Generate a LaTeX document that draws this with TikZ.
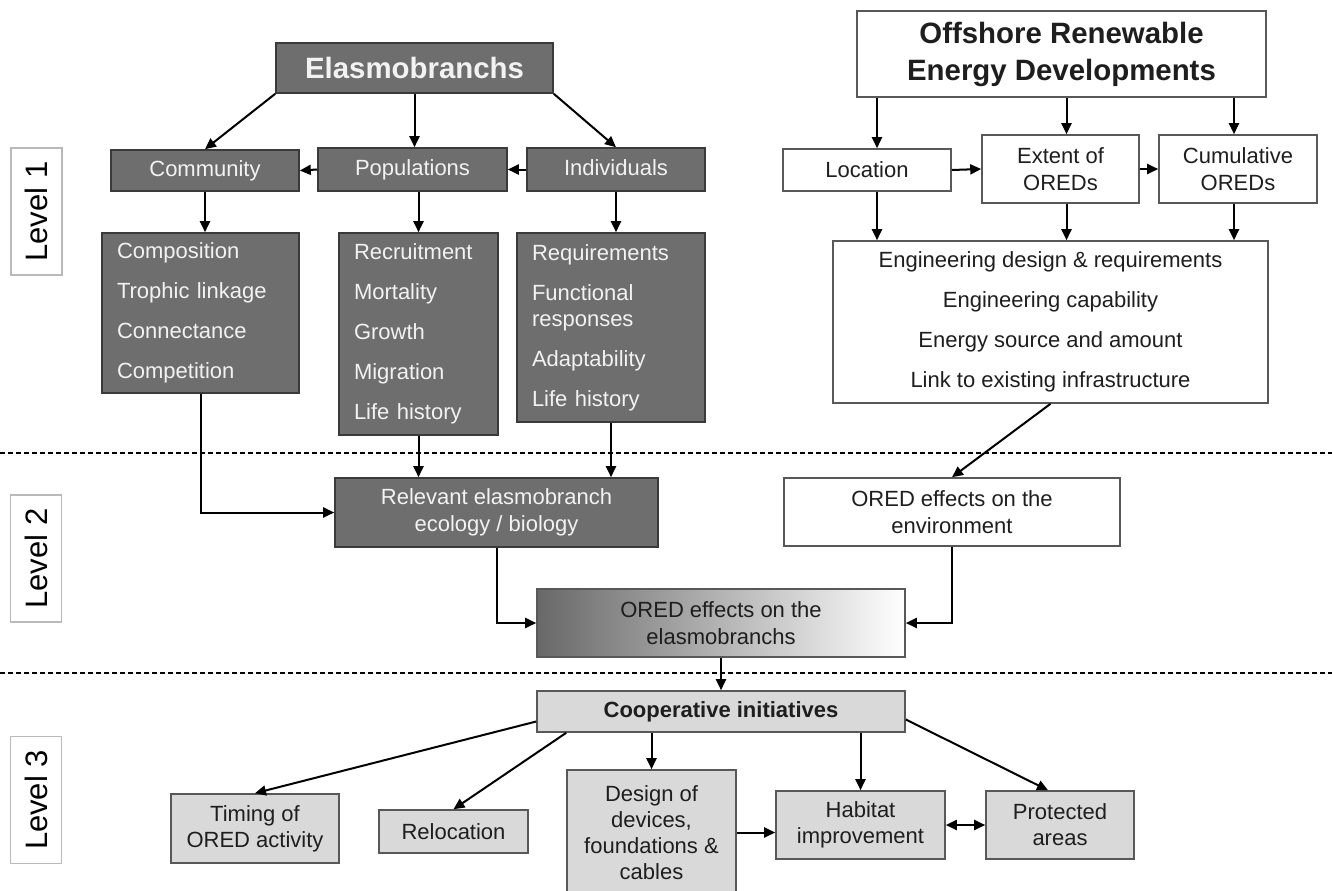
\documentclass[tikz,border=0pt]{standalone}
\usepackage{fontspec}
\setmainfont{Liberation Sans}
\usetikzlibrary{arrows.meta}

\definecolor{darkfill}{HTML}{6E6E6E}
\definecolor{darkline}{HTML}{3A3A3A}
\definecolor{lightfill}{HTML}{D9D9D9}
\definecolor{paletext}{HTML}{F2F2F2}
\definecolor{inktext}{HTML}{1E1E1E}

\tikzset{
  darkbox/.style={draw=darkline, line width=0.8pt, fill=darkfill, text=paletext, inner sep=0pt, align=center, font=\fontsize{11}{13.5}\selectfont},
  whitebox/.style={draw=darkline!85, line width=0.8pt, fill=white, text=inktext, inner sep=0pt, align=center, font=\fontsize{11}{13.5}\selectfont},
  greybox/.style={draw=darkline!85, line width=0.8pt, fill=lightfill, text=inktext, inner sep=0pt, align=center, font=\fontsize{11}{13}\selectfont},
  gradbox/.style={draw=darkline!85, line width=0.8pt, left color=darkfill!95!black, right color=white, text=inktext, inner sep=0pt, align=center, font=\fontsize{11}{13.5}\selectfont},
  listbox/.style={darkbox, align=left, inner xsep=7.5pt, font=\fontsize{11}{20}\selectfont},
  rowbox/.style={darkbox, text height=8pt, text depth=2.4pt},
  levelbox/.style={draw=gray!55, line width=0.75pt, fill=white, rotate=90, inner sep=0pt, minimum width=63.5pt, minimum height=25.5pt, font=\fontsize{15.5}{18}\selectfont},
  arr/.style={-{Triangle[length=5.5pt,width=5pt]}, line width=1pt},
  dblarr/.style={{Triangle[length=5.5pt,width=5pt]}-{Triangle[length=5.5pt,width=5pt]}, line width=1pt},
  levelline/.style={line width=0.8pt, dash pattern=on 2.5pt off 1.5pt}
}

\begin{document}
\begin{tikzpicture}[x=0.5pt, y=-0.5pt]
    \useasboundingbox (0,0) rectangle (1332,890);

    % Levels
    \node[levelbox] (lev1) at (36.5,211.5) {Level 1};
    \node[levelbox] (lev2) at (36,558.5) {Level 2};
    \node[levelbox] (lev3) at (36,800) {Level 3};
    \draw[levelline] (0,453) -- (1332,453);
    \draw[levelline] (0,673) -- (1332,673);

    % Elasmobranch side
    \node[darkbox, minimum width=138.5pt, minimum height=25pt, font=\bfseries\fontsize{14.7}{17}\selectfont] (elasmo) at (414.5,68) {Elasmobranchs};
    \node[rowbox, minimum width=94pt, minimum height=20.5pt] (community) at (205,170.5) {Community};
    \node[rowbox, minimum width=94.5pt, minimum height=21.5pt] (populations) at (412.5,169.5) {Populations};
    \node[rowbox, minimum width=89pt, minimum height=21.5pt] (individuals) at (616,169.5) {Individuals};
    \node[listbox, text width=83.5pt, minimum height=80pt] (compbox) at (200.5,313)
        {Composition\\Trophic linkage\\Connectance\\Competition};
    \node[listbox, text width=64.5pt, minimum height=101pt] (recbox) at (418.5,334)
        {Recruitment\\Mortality\\Growth\\Migration\\Life history};
    \node[listbox, text width=79pt, minimum height=94.5pt] (reqbox) at (611,327.5)
        {Requirements\\Functional\\[-7pt]responses\\Adaptability\\Life history};

    \draw[arr] (elasmo.south west) -- (community.north);
    \draw[arr] (elasmo.south) -- (elasmo.south |- populations.north);
    \draw[arr] (elasmo.south east) -- (individuals.north);
    \draw[arr] (populations.west) -- (community.east);
    \draw[arr] (individuals.west) -- (populations.east);
    \draw[arr] (community.south) -- (community.south |- compbox.north);
    \draw[arr] (recbox.north |- populations.south) -- (recbox.north);
    \draw[arr] (individuals.south) -- (individuals.south |- reqbox.north);

    % ORED side
    \node[whitebox, minimum width=204.5pt, minimum height=43pt, font=\bfseries\fontsize{14.7}{18.5}\selectfont] (offshore) at (1061.5,54)
        {Offshore Renewable\\Energy Developments};
    \node[whitebox, minimum width=84pt, minimum height=21pt] (location) at (867,170) {Location};
    \node[whitebox, minimum width=78.5pt, minimum height=34pt] (extent) at (1060.5,169) {Extent of\\OREDs};
    \node[whitebox, minimum width=79pt, minimum height=34pt] (cumul) at (1238,169) {Cumulative\\OREDs};
    \node[whitebox, minimum width=217.5pt, minimum height=81pt, font=\fontsize{11}{20}\selectfont] (engin) at (1050.5,322)
        {Engineering design \& requirements\\Engineering capability\\Energy source and amount\\Link to existing infrastructure};

    \draw[arr] ([xshift=5pt]location.north |- offshore.south) -- ([xshift=5pt]location.north);
    \draw[arr] ([xshift=3pt]extent.north |- offshore.south) -- ([xshift=3pt]extent.north);
    \draw[arr] ([xshift=-2pt]cumul.north |- offshore.south) -- ([xshift=-2pt]cumul.north);
    \draw[arr] (location.east) -- (extent.west);
    \draw[arr] (extent.east) -- (cumul.west);
    \draw[arr] ([xshift=5pt]location.south) -- ([xshift=5pt]location.south |- engin.north);
    \draw[arr] ([xshift=3pt]extent.south) -- ([xshift=3pt]extent.south |- engin.north);
    \draw[arr] ([xshift=-2pt]cumul.south) -- ([xshift=-2pt]cumul.south |- engin.north);

    % Level 2
    \node[darkbox, minimum width=161.5pt, minimum height=34.5pt] (relevant) at (496.5,512.5)
        {Relevant elasmobranch\\ecology / biology};
    \node[whitebox, minimum width=168pt, minimum height=34pt] (envfx) at (952,512)
        {ORED effects on the\\environment};
    \node[gradbox, minimum width=184pt, minimum height=34pt] (elasfx) at (721,623)
        {ORED effects on the\\elasmobranchs};

    \draw[arr] (compbox.south) |- (relevant.west);
    \draw[arr] (recbox.south) -- (recbox.south |- relevant.north);
    \draw[arr] (reqbox.south) -- (reqbox.south |- relevant.north);
    \draw[arr] (engin.south) -- (envfx.north);
    \draw[arr] (relevant.south) |- (elasfx.west);
    \draw[arr] (envfx.south) |- (elasfx.east);

    % Level 3
    \node[greybox, minimum width=184pt, minimum height=20.5pt, font=\bfseries\fontsize{11}{13}\selectfont] (coop) at (721,711.5)
        {Cooperative initiatives};
    \node[greybox, minimum width=84pt, minimum height=34.5pt] (timing) at (255,828.5) {Timing of\\ORED activity};
    \node[greybox, minimum width=74.5pt, minimum height=21.5pt] (reloc) at (453.5,831.5) {Relocation};
    \node[greybox, minimum width=84.5pt, minimum height=62.5pt] (design) at (651.5,832.5)
        {Design of\\devices,\\foundations \&\\cables};
    \node[greybox, minimum width=84.5pt, minimum height=34pt] (habitat) at (860.5,825) {Habitat\\improvement};
    \node[greybox, minimum width=74pt, minimum height=34pt] (protect) at (1060,825) {Protected\\areas};

    \draw[arr] (elasfx.south) -- (coop.north);
    \draw[arr] ([yshift=-5pt]coop.west) -- (timing.north);
    \draw[arr] ([xshift=15pt]coop.south west) -- (reloc.north);
    \draw[arr] (design.north |- coop.south) -- (design.north);
    \draw[arr] (habitat.north |- coop.south) -- (habitat.north);
    \draw[arr] ([yshift=-4pt]coop.east) -- ([xshift=-6pt]protect.north);
    \draw[arr] (design.east) -- (design.east -| habitat.west);
    \draw[dblarr] (habitat.east) -- (protect.west);
\end{tikzpicture}
\end{document}
